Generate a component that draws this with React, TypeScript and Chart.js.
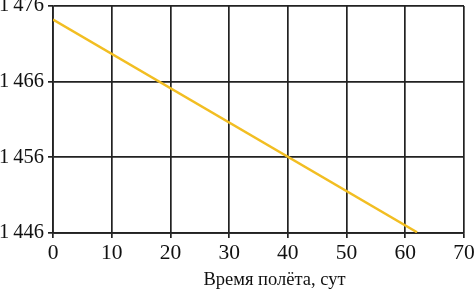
import React, { useEffect, useRef } from "react";
import { Chart, registerables } from "chart.js";

Chart.register(...registerables);

const days = [0, 62];
const values = [1474.2, 1446.1];
const xTicks = [0, 10, 20, 30, 40, 50, 60, 70];
const yTicks = [1446, 1456, 1466, 1476];
const xTitle = "Время полёта, сут";

const FONT = "'Liberation Serif', 'DejaVu Serif', serif";

const titlePlugin = {
  id: "xTitleShifted",
  afterDraw(chart: any) {
    const ctx = chart.ctx;
    const area = chart.chartArea;
    ctx.save();
    ctx.font = `18.5px ${FONT}`;
    ctx.fillStyle = "#111";
    ctx.textAlign = "center";
    ctx.textBaseline = "alphabetic";
    ctx.fillText(xTitle, (area.left + area.right) / 2 + 16, area.bottom + 52);
    ctx.restore();
  },
};

export default function App() {
  const ref = useRef<HTMLCanvasElement | null>(null);
  useEffect(() => {
    if (!ref.current) return;
    const chart = new Chart(ref.current, {
      type: "scatter",
      data: {
        datasets: [
          {
            data: days.map((d, i) => ({ x: d, y: values[i] })),
            showLine: true,
            borderColor: "#f2be22",
            borderWidth: 2.5,
            pointRadius: 0,
            fill: false,
          },
        ],
      },
      options: {
        animation: false,
        responsive: false,
        layout: { padding: { top: 6, right: 12, left: 0, bottom: 0 } },
        plugins: { legend: { display: false }, tooltip: { enabled: false } },
        scales: {
          x: {
            type: "linear",
            min: 0,
            max: 70,
            afterBuildTicks: (axis: any) => {
              axis.ticks = xTicks.map((v) => ({ value: v }));
            },
            afterFit: (axis: any) => {
              axis.height = 57;
              axis.paddingLeft = 0;
              axis.paddingRight = 0;
            },
            grid: { color: "#222", lineWidth: 1.7, tickLength: 5, drawTicks: true },
            border: { color: "#222", width: 1.7 },
            ticks: {
              color: "#111",
              font: { family: FONT, size: 21.5 },
              padding: 2,
              maxRotation: 0,
            },
          },
          y: {
            type: "linear",
            min: 1446,
            max: 1476,
            afterBuildTicks: (axis: any) => {
              axis.ticks = yTicks.map((v) => ({ value: v }));
            },
            afterFit: (axis: any) => {
              axis.width = 53;
              axis.paddingTop = 0;
              axis.paddingBottom = 0;
            },
            grid: { color: "#222", lineWidth: 1.7, tickLength: 5 },
            border: { color: "#222", width: 1.7 },
            ticks: {
              color: "#111",
              font: { family: FONT, size: 20.5 },
              padding: 4,
              callback: (v: any) => {
                const s = String(v);
                return s.length > 3 ? s.slice(0, s.length - 3) + "\u2009" + s.slice(-3) : s;
              },
            },
          },
        },
      },
      plugins: [titlePlugin],
    });
    return () => chart.destroy();
  }, []);
  return (
    <div style={{ position: "fixed", left: 0, top: 0, width: 476, height: 290, background: "#fff" }}>
      <canvas ref={ref} width={476} height={290} style={{ width: 476, height: 290 }} />
    </div>
  );
}
